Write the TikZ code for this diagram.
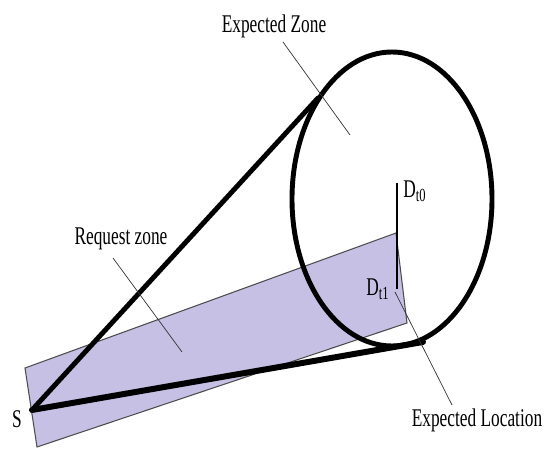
\documentclass[tikz,border=0pt]{standalone}
\usepackage{fontspec}
\setmainfont{Liberation Serif}[FakeStretch=0.68]
\definecolor{reqfill}{RGB}{198,192,228}
\newcommand{\subtxt}[1]{\raisebox{-2pt}{\fontsize{10.5}{12}\selectfont #1}}

\begin{document}
\begin{tikzpicture}[x=0.02cm,y=-0.02cm,
  zone/.style={fill=reqfill,draw=black!70,line width=0.6pt},
  bold/.style={line width=2.8pt,line cap=round,line join=round},
  lead/.style={line width=0.4pt,black!80},
  lbl/.style={font=\fontsize{14.5}{16}\selectfont,inner sep=0pt,anchor=base}]
\useasboundingbox (0,0) rectangle (545,449);
% request zone (shaded band)
\coordinate (rUL) at (25,368);
\coordinate (rUR) at (396,233);
\coordinate (rLR) at (407,323);
\coordinate (rLL) at (37,447);
\draw[zone] (rUL) -- (rUR) -- (rLR) -- (rLL) -- cycle;
% expected zone
\draw[bold] (392,199) ellipse [x radius=100, y radius=147];
% source and the two bounding lines
\coordinate (S) at (32,410);
\coordinate (tanU) at (318,98);
\coordinate (tanL) at (423,342);
\draw[bold] (S) -- (tanU);
\draw[bold,line width=3.4pt] (S) -- (tanL);
% movement D_t0 -> D_t1
\coordinate (dTop) at (397,183);
\coordinate (dBot) at (397,289);
\draw[line width=1.6pt] (dTop) -- (dBot);
% labels
\node[lbl] (ezone) at (274,33) {Expected Zone};
\node[lbl] (rzone) at (121,245) {Request zone};
\node[lbl] (eloc) at (477,427) {Expected Location};
\node[lbl] (src) at (17,428) {S};
\node[lbl,anchor=base west] (d0) at (403,198) {D\subtxt{t0}};
\node[lbl,anchor=base west] (d1) at (366,296) {D\subtxt{t1}};
% leader lines
\coordinate (ezA) at (283,42);
\coordinate (ezB) at (350,135);
\coordinate (rzA) at (113,258);
\coordinate (rzB) at (182,352);
\coordinate (elA) at (395,292);
\coordinate (elB) at (452,405);
\draw[lead] (ezA) -- (ezB);
\draw[lead] (rzA) -- (rzB);
\draw[lead] (elA) -- (elB);
\end{tikzpicture}
\end{document}
